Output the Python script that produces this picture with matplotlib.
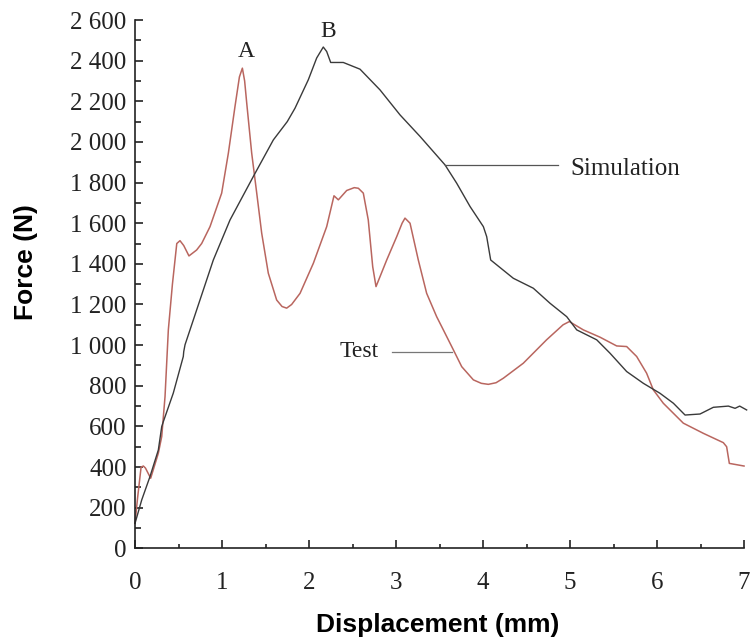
import matplotlib.pyplot as plt
from matplotlib.ticker import MultipleLocator, FixedLocator

# Test curve (red)
test_x = [0, 0.03, 0.07, 0.096, 0.12, 0.18, 0.268, 0.307, 0.345, 0.383, 0.43, 0.48,
          0.517, 0.56, 0.62, 0.708, 0.766, 0.862, 0.996, 1.073, 1.149, 1.20, 1.234,
          1.26, 1.284, 1.341, 1.399, 1.456, 1.532, 1.628, 1.69, 1.743, 1.80, 1.897,
          2.05, 2.203, 2.287, 2.337, 2.433, 2.52, 2.567, 2.624, 2.681, 2.732, 2.77,
          2.893, 3.008, 3.07, 3.103, 3.161, 3.256, 3.352, 3.467, 3.525, 3.66, 3.755,
          3.889, 3.98, 4.061, 4.15, 4.233, 4.463, 4.73, 4.92, 4.992, 5.153, 5.345,
          5.536, 5.651, 5.766, 5.88, 5.957, 6.072, 6.302, 6.532, 6.762, 6.80, 6.831,
          7.0]
test_y = [123, 250, 400, 405, 395, 345, 468, 550, 747, 1075, 1300, 1500,
          1514, 1490, 1439, 1468, 1500, 1583, 1748, 1945, 2174, 2320, 2363,
          2300, 2191, 1945, 1748, 1551, 1354, 1222, 1190, 1182, 1200, 1255,
          1403, 1583, 1735, 1715, 1761, 1775, 1772, 1748, 1616, 1386, 1288,
          1419, 1534, 1600, 1625, 1600, 1419, 1255, 1140, 1091, 976, 894,
          829, 812, 807, 815, 837, 911, 1026, 1100, 1116, 1075, 1039,
          996, 993, 944, 862, 780, 714, 616, 566, 520, 500, 418,
          405]

# Simulation curve (black)
sim_x = [0, 0.077, 0.172, 0.268, 0.307, 0.326, 0.44, 0.555, 0.56, 0.575, 0.632, 0.9,
         1.092, 1.36, 1.59, 1.75, 1.839, 1.992, 2.088, 2.164, 2.203, 2.249, 2.394,
         2.586, 2.816, 3.046, 3.276, 3.563, 3.697, 3.851, 4.004, 4.042, 4.088, 4.348,
         4.578, 4.77, 4.962, 5.077, 5.307, 5.46, 5.651, 5.843, 6.034, 6.188, 6.322,
         6.494, 6.647, 6.82, 6.897, 6.95, 7.03]
sim_y = [123, 238, 353, 484, 599, 624, 764, 944, 968, 1002, 1075, 1419,
         1616, 1830, 2010, 2100, 2166, 2306, 2413, 2467, 2445, 2391, 2391,
         2358, 2256, 2133, 2027, 1887, 1797, 1682, 1583, 1534, 1419, 1329,
         1280, 1206, 1140, 1075, 1026, 960, 870, 812, 763, 714, 656,
         661, 694, 700, 689, 700, 681]

y_ticks = list(range(0, 2601, 200))
y_labels = ['{:,}'.format(v).replace(',', ' ') for v in y_ticks]
x_ticks = list(range(0, 8))

fig = plt.figure(figsize=(7.53, 6.37), dpi=100)
ax = fig.add_axes([0.1793, 0.1392, 0.8088, 0.8294])

ax.plot(test_x, test_y, color='#b9665f', lw=1.1, clip_on=False)
ax.plot(sim_x, sim_y, color='#3a3a3a', lw=1.0, clip_on=False)

ax.set_xlim(0, 7)
ax.set_ylim(0, 2600)
for s in ['top', 'right']:
    ax.spines[s].set_visible(False)
for s in ['left', 'bottom']:
    ax.spines[s].set_linewidth(1.2)
    ax.spines[s].set_color('#222222')

ax.yaxis.set_major_locator(FixedLocator(y_ticks))
ax.set_yticklabels(y_labels)
ax.yaxis.set_minor_locator(MultipleLocator(100))
ax.xaxis.set_major_locator(FixedLocator(x_ticks))
ax.xaxis.set_minor_locator(MultipleLocator(0.5))

serif = 'Liberation Serif'
ax.tick_params(axis='y', which='major', direction='in', length=6, width=1.2, pad=6,
               labelsize=18, colors='#222222')
ax.tick_params(axis='y', which='minor', direction='in', length=4, width=1.2, colors='#222222')
ax.tick_params(axis='x', which='major', direction='in', length=6, width=1.2, pad=17,
               labelsize=18, colors='#222222')
ax.tick_params(axis='x', which='minor', direction='in', length=3, width=1.2, colors='#222222')
for lab in ax.get_xticklabels() + ax.get_yticklabels():
    lab.set_fontfamily(serif)

# annotations
ax.text(1.276, 2419, 'A', fontfamily=serif, fontsize=17, ha='center', va='baseline', color='#222222')
ax.text(2.218, 2518, 'B', fontfamily=serif, fontsize=17, ha='center', va='baseline', color='#222222')
ax.plot([3.563, 4.862], [1887, 1887], color='#555555', lw=0.9)
ax.text(5.0, 1838, 'Simulation', fontfamily=serif, fontsize=18, ha='left', va='baseline', color='#222222')
ax.plot([2.951, 3.64], [968, 968], color='#777777', lw=0.9)
ax.text(2.356, 943, 'Test', fontfamily=serif, fontsize=17, ha='left', va='baseline', color='#222222')

fig.text(437.5 / 753, 0.0078, 'Displacement (mm)', fontfamily='Liberation Sans',
         fontweight='bold', fontsize=19, ha='center', va='baseline')
fig.text(26 / 753, 1 - 262 / 637, 'Force (N)', fontfamily='Liberation Sans',
         fontweight='bold', fontsize=19, ha='center', va='center', rotation=90)

fig.savefig('out.png', dpi=100)
